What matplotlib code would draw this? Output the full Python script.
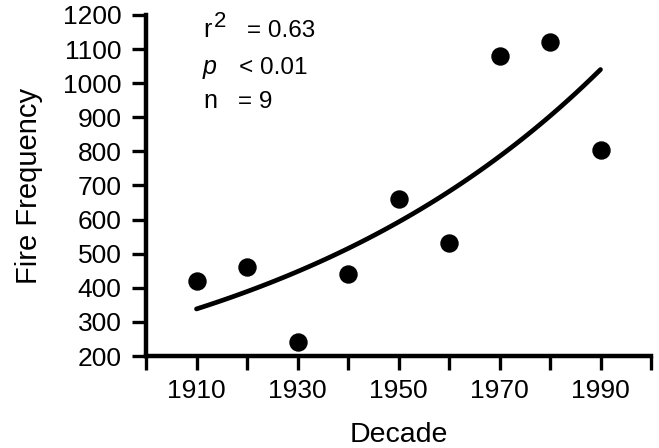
import numpy as np
import matplotlib.pyplot as plt

decades = [1910, 1920, 1930, 1940, 1950, 1960, 1970, 1980, 1990]
fire_freq = [420, 460, 240, 440, 660, 530, 1080, 1120, 805]

# exponential fit y = a * exp(b * (x - 1910))
fit_a = 338
fit_b = 0.01405

x_ticks = list(range(1900, 2001, 10))
x_labels = ["", "1910", "", "1930", "", "1950", "", "1970", "", "1990", ""]
y_ticks = list(range(200, 1201, 100))

stat_names = ["r", "p", "n"]
stat_values = ["= 0.63", "< 0.01", "= 9"]

plt.rcParams["font.family"] = ["Liberation Sans", "DejaVu Sans"]

W, H = 659, 448
fig = plt.figure(figsize=(W / 100, H / 100), dpi=100)
ax = fig.add_axes([146 / W, 1 - 356 / H, 505 / W, 341 / H])

ax.scatter(decades, fire_freq, s=150, color="black", zorder=3)

xs = np.linspace(1910, 1990, 100)
ax.plot(xs, fit_a * np.exp(fit_b * (xs - 1910)), color="black", lw=3.4,
        solid_capstyle="round")

ax.set_xlim(1900, 2000)
ax.set_ylim(200, 1200)
ax.set_xticks(x_ticks)
ax.set_xticklabels(x_labels)
ax.set_yticks(y_ticks)

for s in ["top", "right"]:
    ax.spines[s].set_visible(False)
for s in ["left", "bottom"]:
    ax.spines[s].set_linewidth(3.2)

ax.tick_params(direction="out", length=10, width=2.4, labelsize=19,
               color="black")
ax.tick_params(axis="y", pad=7.5)
ax.tick_params(axis="x", pad=6.5)

ax.set_xlabel("Decade", fontsize=20.5, va="baseline")
ax.xaxis.set_label_coords(0.5, -(442 - 356) / 341)
ax.set_ylabel("Fire Frequency", fontsize=21)
ax.yaxis.set_label_coords((43 - 146) / 505, 0.5)

# stats block, positions in pixels of the 659x448 figure
name_x = 203
value_x = [247, 239, 238]
baselines = [37, 74, 108]
for name, val, vx, by in zip(stat_names, stat_values, value_x, baselines):
    style = "italic" if name == "p" else "normal"
    fig.text(name_x / W, 1 - by / H, name, fontsize=18, style=style,
             va="baseline")
    fig.text(vx / W, 1 - by / H, val, fontsize=17.5, va="baseline")
fig.text(214 / W, 1 - 27 / H, "2", fontsize=16, va="baseline")

fig.savefig("out.png", dpi=100)
